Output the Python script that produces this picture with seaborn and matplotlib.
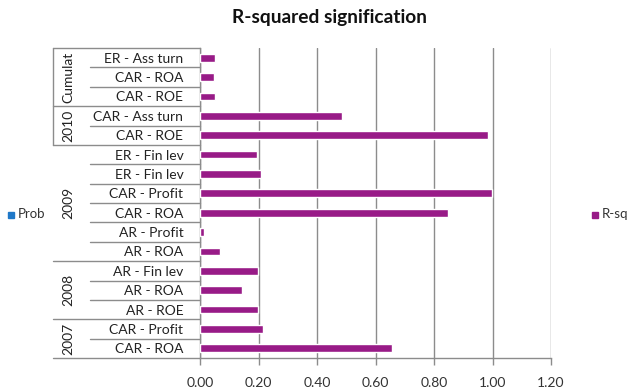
import matplotlib
matplotlib.use('Agg')
import matplotlib.pyplot as plt
import matplotlib.transforms as mtransforms
from matplotlib.patches import Rectangle
import seaborn as sns
import pandas as pd

# data, top to bottom as in the chart
groups = ['Cumulat', 'Cumulat', 'Cumulat',
          '2010', '2010',
          '2009', '2009', '2009', '2009', '2009', '2009',
          '2008', '2008', '2008',
          '2007', '2007']
items = ['ER - Ass turn', 'CAR - ROA', 'CAR - ROE',
         'CAR - Ass turn', 'CAR - ROE',
         'ER - Fin lev', 'ER - Fin lev', 'CAR - Profit', 'CAR - ROA', 'AR - Profit', 'AR - ROA',
         'AR - Fin lev', 'AR - ROA', 'AR - ROE',
         'CAR - Profit', 'CAR - ROA']
r_sq = [0.051, 0.047, 0.051,
        0.486, 0.985,
        0.194, 0.209, 0.999, 0.847, 0.012, 0.067,
        0.197, 0.143, 0.197,
        0.214, 0.658]
group_names = ['Cumulat', '2010', '2009', '2008', '2007']
x_ticks = [0.0, 0.2, 0.4, 0.6, 0.8, 1.0, 1.2]

sns.set_style('white')
plt.rcParams['font.family'] = ['Lato', 'DejaVu Sans']

df = pd.DataFrame({'key': [f'{g}|{it}|{i}' for i, (g, it) in enumerate(zip(groups, items))],
                   'R-sq': r_sq})

fig = plt.figure(figsize=(6.4, 3.88), dpi=100)
ax = fig.add_axes([200 / 640, 1 - 358 / 388, 351 / 640, 310 / 388])

purple = '#981B87'
grid_c = '#8C8C8C'
sns.barplot(data=df, x='R-sq', y='key', orient='h', color=purple,
            width=0.4, saturation=1, ax=ax, zorder=3)

n = len(items)
ax.set_xlim(0, 1.2)
ax.set_xticks(x_ticks)
ax.set_xticklabels([f'{v:.2f}' for v in x_ticks], fontsize=10, color='#333333')
ax.set_yticks(range(n))
ax.set_yticklabels(items, fontsize=10, color='#222222')
ax.set_xlabel('')
ax.set_ylabel('')
ax.tick_params(axis='y', length=0, pad=12)
ax.tick_params(axis='x', length=5, width=1, color=grid_c, direction='out', pad=9, bottom=True)
ax.xaxis.grid(True, color=grid_c, lw=1, zorder=0)
ax.set_axisbelow(True)
for s in ['top', 'right']:
    ax.spines[s].set_visible(False)
for s in ['left', 'bottom']:
    ax.spines[s].set_color(grid_c)
    ax.spines[s].set_linewidth(1)

# multi-level category axis lines
trans = mtransforms.blended_transform_factory(ax.transAxes, ax.transData)
x_item = (90 - 200) / 351
x_group = (53 - 200) / 351
x_glabel = (68 - 200) / 351
bounds = [0]
for i in range(1, n):
    if groups[i] != groups[i - 1]:
        bounds.append(i)
bounds.append(n)
for i in range(n + 1):
    x0 = x_group if i in bounds else x_item
    ax.plot([x0, 0], [i - 0.5, i - 0.5], transform=trans, color=grid_c, lw=1,
            clip_on=False, scalex=False, scaley=False)
# vertical line on the left of the first two groups
ax.plot([x_group, x_group], [bounds[0] - 0.5, bounds[2] - 0.5], transform=trans,
        color=grid_c, lw=1, clip_on=False, scalex=False, scaley=False)
for gi, g in enumerate(group_names):
    yc = (bounds[gi] + bounds[gi + 1] - 1) / 2
    ax.text(x_glabel, yc, g, transform=trans, rotation=90, ha='center', va='center',
            fontsize=10, color='#222222')
ax.set_ylim(n - 0.5, -0.5)
ax.set_xlim(0, 1.2)

fig.suptitle('R-squared signification', x=330 / 640, y=1 - 17 / 388, va='center',
             fontsize=13.8, fontweight='bold', color='#111111')

# legend entries on the sides
fig.patches.append(Rectangle((8 / 640, 1 - 218 / 388), 6 / 640, 6 / 388,
                             transform=fig.transFigure, color='#1F78C8'))
fig.text(18 / 640, 1 - 214 / 388, 'Prob', va='center', fontsize=9.5, color='#333333')
fig.patches.append(Rectangle((592 / 640, 1 - 218 / 388), 6 / 640, 6 / 388,
                             transform=fig.transFigure, color=purple))
fig.text(602 / 640, 1 - 214 / 388, 'R-sq', va='center', fontsize=9.5, color='#333333')

fig.savefig('out.png', dpi=100)
